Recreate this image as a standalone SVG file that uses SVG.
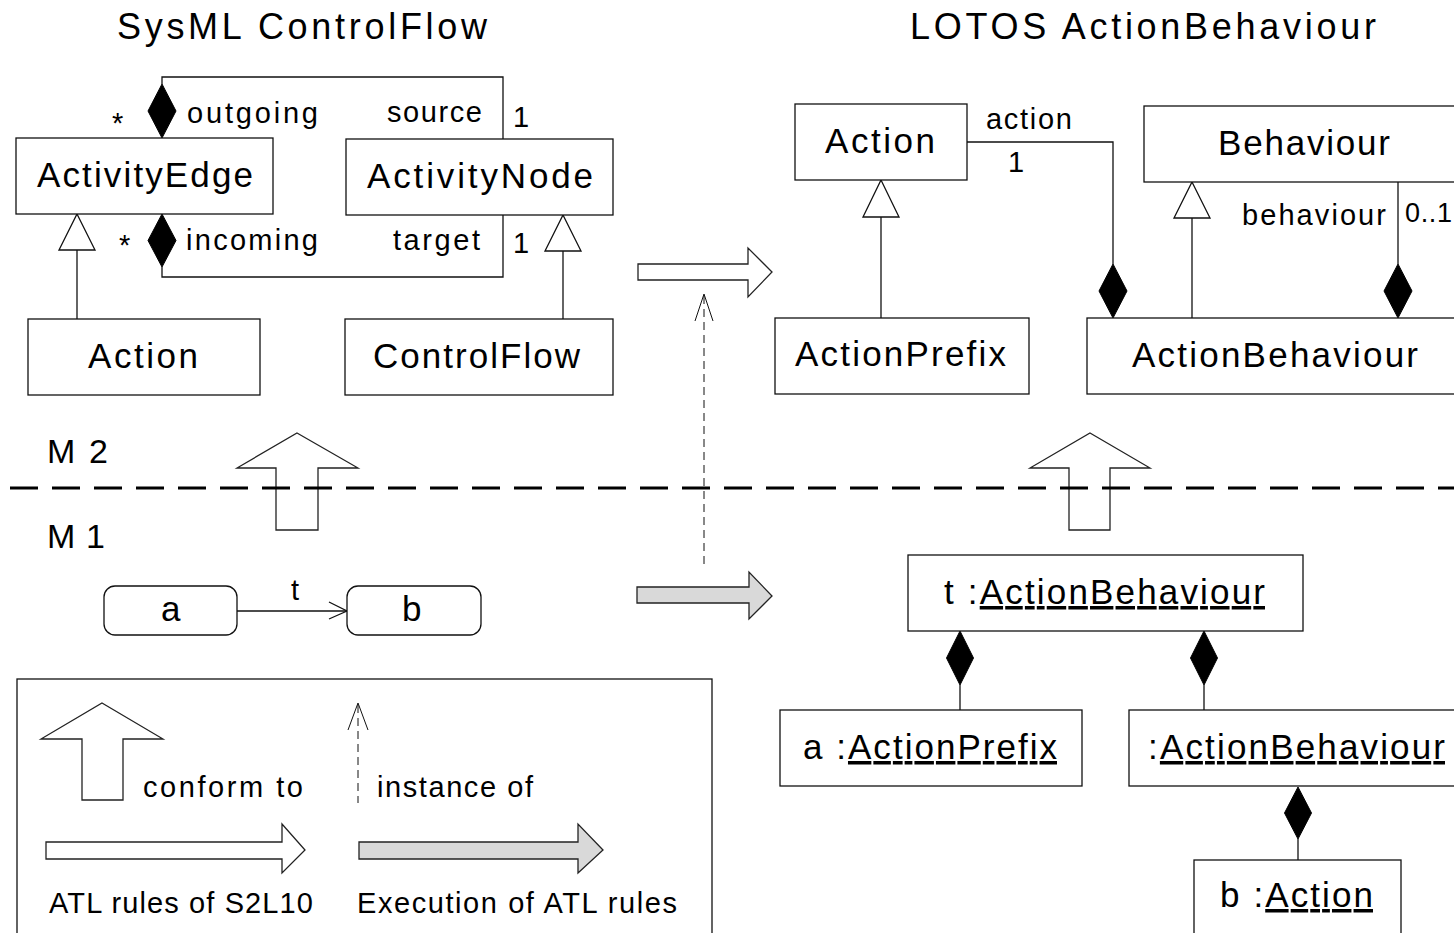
<svg xmlns="http://www.w3.org/2000/svg" width="1454" height="933" viewBox="0 0 1454 933">
<style>
text{font-family:"Liberation Sans",Arial,Helvetica,sans-serif;fill:#000}
.t{font-size:36px}
.c{font-size:35px}
.l{font-size:29px}
.box{fill:#fff;stroke:#111;stroke-width:1.3}
.ln{fill:none;stroke:#111;stroke-width:1.3}
.dia{fill:#000;stroke:#000;stroke-width:1}
.tri{fill:#fff;stroke:#111;stroke-width:1.3}
.big{fill:#fff;stroke:#222;stroke-width:1.3}
.grey{fill:#d9d9d9;stroke:#222;stroke-width:1.3}
.dash{fill:none;stroke:#111;stroke-width:1;stroke-dasharray:8 5}
.u{text-decoration:underline}
</style>
<rect width="1454" height="933" fill="#fff"/>
<text class="t" x="117" y="39" textLength="370" lengthAdjust="spacing">SysML ControlFlow</text>
<text class="t" x="910" y="39" textLength="466" lengthAdjust="spacing">LOTOS ActionBehaviour</text>

<g id="connectors">
<polyline class="ln" points="162,84 162,77 503,77 503,139"/>
<polygon class="dia" points="162,84 176,111 162,138 148,111"/>
<polyline class="ln" points="162,267 162,277 503,277 503,215"/>
<polygon class="dia" points="162,214 176,240.5 162,267 148,240.5"/>
<line class="ln" x1="77" y1="250" x2="77" y2="319"/>
<polygon class="tri" points="77,214 95,250 59,250"/>
<line class="ln" x1="563" y1="251" x2="563" y2="319"/>
<polygon class="tri" points="563,215 581,251 545,251"/>
<polyline class="ln" points="967,142 1113,142 1113,264"/>
<polygon class="dia" points="1113,264 1127,291 1113,318 1099,291"/>
<line class="ln" x1="1398" y1="178" x2="1398" y2="264"/>
<polygon class="dia" points="1398,264 1412,291 1398,318 1384,291"/>
<line class="ln" x1="881" y1="217" x2="881" y2="318"/>
<polygon class="tri" points="881,180 899,217 863,217"/>
<line class="ln" x1="1192" y1="218" x2="1192" y2="318"/>
<polygon class="tri" points="1192,182 1210,218 1174,218"/>
<line class="ln" x1="237" y1="611" x2="347" y2="611"/>
<polyline class="ln" points="329,602 347,611 329,619"/>
<line class="ln" x1="960" y1="685" x2="960" y2="710"/>
<polygon class="dia" points="960,631 973.5,658 960,685 946.5,658"/>
<line class="ln" x1="1204" y1="685" x2="1204" y2="710"/>
<polygon class="dia" points="1204,631 1217.5,658 1204,685 1190.5,658"/>
<line class="ln" x1="1298" y1="839" x2="1298" y2="860"/>
<polygon class="dia" points="1298,787 1311.5,813 1298,839 1284.5,813"/>
<polygon class="big" points="638,264 748,264 748,248 772,272 748,297 748,280 638,280"/>
<polygon class="grey" points="637,587 749,587 749,572 772,596 749,619 749,603 637,603"/>
<line class="dash" x1="704" y1="296" x2="704" y2="567"/>
<polyline class="ln" style="stroke-width:1" points="695,321 704,294 713,321"/>
<polygon class="big" points="297,433 358,468 318,468 318,530 276,530 276,468 237,468"/>
<polygon class="big" points="1090,433 1150,468 1110,468 1110,530 1069,530 1069,468 1030,468"/>
<line x1="10" y1="488" x2="1454" y2="488" stroke="#000" stroke-width="3" stroke-dasharray="28 14"/>
<text class="l" x="119" y="255">*</text>
<text class="l" x="112" y="133">*</text>
<text class="l" x="187" y="123" textLength="131" lengthAdjust="spacing">outgoing</text>
<text class="l" x="387" y="122" textLength="95" lengthAdjust="spacing">source</text>
<text class="l" x="513" y="127">1</text>
<text class="l" x="186" y="250" textLength="132" lengthAdjust="spacing">incoming</text>
<text class="l" x="393" y="250" textLength="87" lengthAdjust="spacing">target</text>
<text class="l" x="513" y="253">1</text>
<text class="l" x="986" y="129" textLength="86" lengthAdjust="spacing">action</text>
<text class="l" x="1008" y="172">1</text>
<text class="l" x="1242" y="225" textLength="144" lengthAdjust="spacing">behaviour</text>
<text style="font-size:27px" x="1405" y="222" textLength="47" lengthAdjust="spacing">0..1</text>
<text class="l" x="291" y="600">t</text>
</g>

<text x="47" y="463" style="font-size:34px" textLength="61" lengthAdjust="spacing">M2</text>
<text x="47" y="548" style="font-size:34px" textLength="58" lengthAdjust="spacing">M1</text>

<g id="ActivityEdge"><rect class="box" x="16" y="138" width="257" height="76"/><text class="c" x="37" y="187" textLength="216" lengthAdjust="spacing">ActivityEdge</text></g>
<g id="ActivityNode"><rect class="box" x="346" y="139" width="267" height="76"/><text class="c" x="367" y="188" textLength="226" lengthAdjust="spacing">ActivityNode</text></g>
<g id="SysAction"><rect class="box" x="28" y="319" width="232" height="76"/><text class="c" x="88" y="368" textLength="110" lengthAdjust="spacing">Action</text></g>
<g id="ControlFlow"><rect class="box" x="345" y="319" width="268" height="76"/><text class="c" x="373" y="368" textLength="207" lengthAdjust="spacing">ControlFlow</text></g>
<g id="LotosAction"><rect class="box" x="795" y="104" width="172" height="76"/><text class="c" x="825" y="153" textLength="110" lengthAdjust="spacing">Action</text></g>
<g id="Behaviour"><rect class="box" x="1144" y="106" width="330" height="76"/><text class="c" x="1218" y="155" textLength="172" lengthAdjust="spacing">Behaviour</text></g>
<g id="ActionPrefix"><rect class="box" x="775" y="318" width="254" height="76"/><text class="c" x="795" y="366" textLength="211" lengthAdjust="spacing">ActionPrefix</text></g>
<g id="ActionBehaviour"><rect class="box" x="1087" y="318" width="390" height="76"/><text class="c" x="1132" y="367" textLength="286" lengthAdjust="spacing">ActionBehaviour</text></g>

<g id="node-a"><rect class="box" x="104" y="586" width="133" height="49" rx="11"/><text class="c" x="161" y="621">a</text></g>
<g id="node-b"><rect class="box" x="347" y="586" width="134" height="49" rx="11"/><text class="c" x="402" y="621">b</text></g>

<g id="t-ActionBehaviour"><rect class="box" x="908" y="555" width="395" height="76"/><text class="c" x="944" y="604" textLength="321" lengthAdjust="spacing">t :<tspan class="u">ActionBehaviour</tspan></text></g>
<g id="a-ActionPrefix"><rect class="box" x="780" y="710" width="302" height="76"/><text class="c" x="803" y="759" textLength="254" lengthAdjust="spacing">a :<tspan class="u">ActionPrefix</tspan></text></g>
<g id="anon-ActionBehaviour"><rect class="box" x="1129" y="710" width="340" height="76"/><text class="c" x="1148" y="759" textLength="297" lengthAdjust="spacing">:<tspan class="u">ActionBehaviour</tspan></text></g>
<g id="b-Action"><rect class="box" x="1194" y="860" width="207" height="100"/><text class="c" x="1220" y="907" textLength="153" lengthAdjust="spacing">b :<tspan class="u">Action</tspan></text></g>

<g id="legend">
<rect class="box" x="17" y="679" width="695" height="300"/>
<polygon class="big" points="102,703 163,739 123,739 123,800 82,800 82,739 41,739"/>
<text class="l" x="143" y="797" textLength="160" lengthAdjust="spacing">conform to</text>
<line class="dash" x1="358" y1="705" x2="358" y2="803"/>
<polyline class="ln" style="stroke-width:1" points="348,730 358,703 368,730"/>
<text class="l" x="377" y="797" textLength="156" lengthAdjust="spacing">instance of</text>
<polygon class="big" points="46,842 282,842 282,824 305,850 282,873 282,859 46,859"/>
<polygon class="grey" points="359,842 578,842 578,824 603,850 578,873 578,859 359,859"/>
<text class="l" x="49" y="913" textLength="264" lengthAdjust="spacing">ATL rules of S2L10</text>
<text class="l" x="357" y="913" textLength="320" lengthAdjust="spacing">Execution of ATL rules</text>
</g>
</svg>
